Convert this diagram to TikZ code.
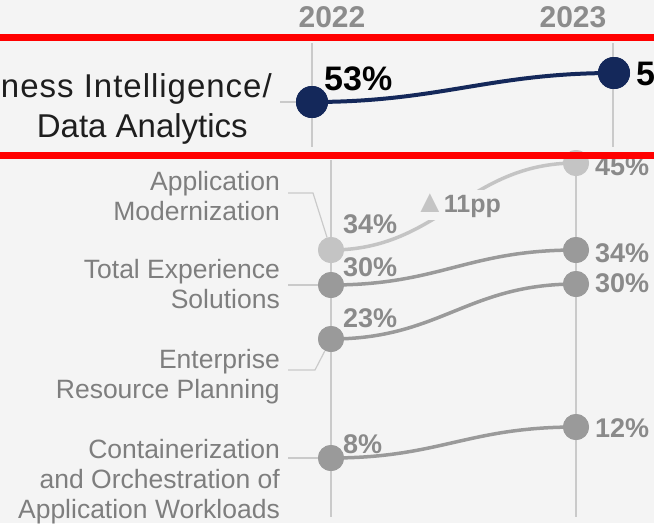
\documentclass[tikz,border=0pt]{standalone}
\usepackage{fontspec}
\setmainfont{Liberation Sans}
\definecolor{bg}{HTML}{F4F4F4}
\definecolor{navy}{HTML}{14285A}
\definecolor{gridc}{HTML}{CACACA}
\definecolor{dotgray}{HTML}{9A9A9A}
\definecolor{dotlight}{HTML}{C4C4C4}
\definecolor{pctgray}{HTML}{8A8A8A}
\definecolor{labgray}{HTML}{7E7E7E}
\definecolor{yeargray}{HTML}{8C8C8C}
\definecolor{toptext}{HTML}{1E1E1E}
\definecolor{redline}{HTML}{FF0000}
\begin{document}
\begin{tikzpicture}[x=1pt,y=-1pt,
  dot/.style={circle,fill=#1,inner sep=0,minimum size=26pt},
  bigdot/.style={circle,fill=navy,inner sep=0,minimum size=32pt},
  pct/.style={anchor=base west,inner sep=0,text=pctgray,font=\fontsize{27}{27}\selectfont\bfseries},
  toppct/.style={anchor=base west,inner sep=0,text=black,font=\fontsize{34}{34}\selectfont\bfseries},
  lab/.style={anchor=base east,inner sep=0,text=labgray,font=\fontsize{26.5}{26.5}\selectfont},
  toplab/.style={anchor=base east,inner sep=0,text=toptext,font=\fontsize{33}{33}\selectfont},
  year/.style={anchor=base,inner sep=0,text=yeargray,font=\fontsize{30}{30}\selectfont\bfseries},
  gridline/.style={draw=gridc,line width=1.2pt},
  leader/.style={draw=gridc,line width=1.2pt},
  curve/.style={draw=#1,line width=3.5pt},
  redbar/.style={draw=redline,line width=7pt}]
\useasboundingbox (0,0) rectangle (654,523);
\fill[bg] (0,0) rectangle (654,523);

% years
\node[year] (y22) at (332,27) {2022};
\node[year] (y23) at (573,27) {2023};

% grid lines
\coordinate (t22a) at (312,43); \coordinate (t22b) at (312,147);
\coordinate (t23a) at (613,43); \coordinate (t23b) at (613,147);
\coordinate (l22a) at (331,160); \coordinate (l22b) at (331,517);
\coordinate (l23a) at (576,160); \coordinate (l23b) at (576,517);
\draw[gridline] (t22a) -- (t22b);
\draw[gridline] (t23a) -- (t23b);
\draw[gridline] (l22a) -- (l22b);
\draw[gridline] (l23a) -- (l23b);

% top: (Busi)ness Intelligence / Data Analytics
\node[toplab] (bil1) at (272,97) {\addfontfeature{LetterSpace=3}ness Intelligence/};
\node[toplab] (bil2) at (248,137) {Data Analytics};
\coordinate (bilk) at (280,102);
\node[bigdot] (bi22) at (312,102) {};
\node[bigdot] (bi23) at (614,73) {};
\draw[leader] (bilk) -- (bi22);
\draw[curve=navy,line width=4pt] (bi22.center) .. controls (440,102) and (490,73) .. (bi23.center);
\node[bigdot] at (bi22) {};
\node[bigdot] at (bi23) {};
\node[toppct] (bi22p) at (324,90) {53\%};
\node[toppct] (bi23p) at (636,85) {5};

% lower section labels
\node[lab] (am1) at (280,190) {Application};
\node[lab] (am2) at (280,220) {Modernization};
\node[lab] (te1) at (280,278) {Total Experience};
\node[lab] (te2) at (280,308) {Solutions};
\node[lab] (er1) at (280,368) {Enterprise};
\node[lab] (er2) at (280,398) {Resource Planning};
\node[lab] (co1) at (280,458) {Containerization};
\node[lab] (co2) at (280,488) {and Orchestration of};
\node[lab] (co3) at (280,518) {Application Workloads};

% dots
\node[dot=dotlight] (am22) at (331,250) {};
\node[dot=dotlight] (am23) at (576,163) {};
\node[dot=dotgray] (te22) at (331,285) {};
\node[dot=dotgray] (te23) at (576,250) {};
\node[dot=dotgray] (er22) at (331,339) {};
\node[dot=dotgray] (er23) at (576,284) {};
\node[dot=dotgray] (co22) at (331,458) {};
\node[dot=dotgray] (co23) at (576,427) {};

% leaders
\coordinate (amk1) at (288,193); \coordinate (amk2) at (313,193);
\draw[leader] (amk1) -- (amk2) -- (am22);
\coordinate (tek) at (288,285);
\draw[leader] (tek) -- (te22);
\coordinate (erk1) at (288,370); \coordinate (erk2) at (315,370);
\draw[leader] (erk1) -- (erk2) -- (er22);
\coordinate (cok) at (288,458);
\draw[leader] (cok) -- (co22);

% curves
\draw[curve=dotlight] (am22.center) .. controls (440,250) and (467,163) .. (am23.center);
\draw[curve=dotgray] (te22.center) .. controls (440,285) and (467,250) .. (te23.center);
\draw[curve=dotgray] (er22.center) .. controls (440,339) and (467,284) .. (er23.center);
\draw[curve=dotgray] (co22.center) .. controls (440,458) and (467,427) .. (co23.center);

% redraw dots on top of curves
\node[dot=dotlight] at (am22) {};
\node[dot=dotlight] at (am23) {};
\node[dot=dotgray] at (te22) {};
\node[dot=dotgray] at (te23) {};
\node[dot=dotgray] at (er22) {};
\node[dot=dotgray] at (er23) {};
\node[dot=dotgray] at (co22) {};
\node[dot=dotgray] at (co23) {};

% delta label
\node[anchor=base west,fill=bg,inner sep=3pt,text=pctgray,font=\fontsize{25}{25}\selectfont\bfseries] (delta) at (411,212) {\textcolor{dotlight}{\fontsize{32}{25}\selectfont▲}\kern-2pt 11pp};

% percentages
\node[pct] (am22p) at (343,233) {34\%};
\node[pct] (am23p) at (595,175) {45\%};
\node[pct] (te22p) at (343,276) {30\%};
\node[pct] (te23p) at (595,262) {34\%};
\node[pct] (er22p) at (343,327) {23\%};
\node[pct] (er23p) at (595,292) {30\%};
\node[pct] (co22p) at (343,453) {8\%};
\node[pct] (co23p) at (595,437) {12\%};

% red highlight bars
\coordinate (ra) at (0,37); \coordinate (rb) at (654,37);
\coordinate (rc) at (0,155.5); \coordinate (rd) at (654,155.5);
\draw[redbar] (ra) -- (rb);
\draw[redbar] (rc) -- (rd);
\end{tikzpicture}
\end{document}
